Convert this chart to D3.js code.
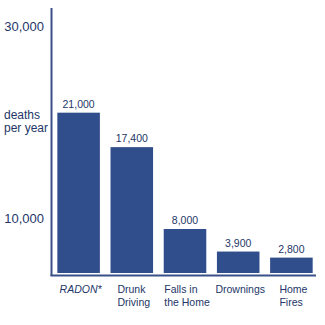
<!DOCTYPE html>
<html>
<head>
<meta charset="utf-8">
<script src="https://cdn.jsdelivr.net/npm/d3@7"></script>
<style>
  body { margin: 0; background: #fff; }
  svg text { font-family: "Liberation Sans", Arial, sans-serif; fill: #243668; }
</style>
</head>
<body>
<svg width="325" height="325"></svg>
<script>
// data
var categories = ["RADON*", "Drunk Driving", "Falls in the Home", "Drownings", "Home Fires"];
var catLines = [["RADON*"], ["Drunk", "Driving"], ["Falls in", "the Home"], ["Drownings"], ["Home", "Fires"]];
var deaths = [21000, 17400, 8000, 3900, 2800];
var valueLabels = ["21,000", "17,400", "8,000", "3,900", "2,800"];
var tickValues = [10000, 30000];
var yTitle = ["deaths", "per year"];

var barColor = "#304e8b";
var axisColor = "#3b5088";

var svg = d3.select("svg");

// x band scale
var x = d3.scaleBand()
    .domain(categories)
    .range([52, 318])
    .paddingInner(0.2)
    .paddingOuter(0.1);

// the original graphic is not drawn to a straight scale, so piecewise linear
var y = d3.scaleLinear()
    .domain([0, 10000, 30000])
    .range([273, 218, 26.5]);

// axis lines
svg.append("line")
    .attr("x1", 51.5).attr("x2", 51.5)
    .attr("y1", 8).attr("y2", 276)
    .attr("stroke", axisColor)
    .attr("stroke-width", 2);

svg.append("line")
    .attr("x1", 50.5).attr("x2", 316)
    .attr("y1", 275.5).attr("y2", 275.5)
    .attr("stroke", axisColor)
    .attr("stroke-width", 2);

// y ticks
var yAxis = d3.axisLeft(y)
    .tickValues(tickValues)
    .tickSize(0)
    .tickPadding(8)
    .tickFormat(d3.format(","));

var gy = svg.append("g")
    .attr("transform", "translate(52,0)")
    .call(yAxis);
gy.select(".domain").remove();
gy.selectAll("text")
    .attr("font-size", 13)
    .attr("font-family", null)
    .attr("fill", null);

// y title
svg.append("text")
    .attr("x", 4)
    .attr("y", 119)
    .attr("font-size", 12)
    .selectAll("tspan")
    .data(yTitle)
    .enter()
    .append("tspan")
    .attr("x", 4)
    .attr("dy", (d, i) => i == 0 ? 0 : 13)
    .text(d => d);

// bars
svg.selectAll("rect.bar")
    .data(deaths)
    .enter()
    .append("rect")
    .attr("class", "bar")
    .attr("x", (d, i) => x(categories[i]))
    .attr("width", x.bandwidth())
    .attr("y", d => y(d))
    .attr("height", d => y(0) - y(d))
    .attr("fill", barColor);

// value labels
svg.selectAll("text.val")
    .data(deaths)
    .enter()
    .append("text")
    .attr("class", "val")
    .attr("x", (d, i) => x(categories[i]) + x.bandwidth() / 2)
    .attr("y", d => y(d) - 5)
    .attr("text-anchor", "middle")
    .attr("font-size", 10.5)
    .text((d, i) => valueLabels[i]);

// category labels: left aligned blocks, block centered under bar
catLines.forEach(function (lines, i) {
    var t = svg.append("text")
        .attr("y", 293)
        .attr("font-size", 10.5)
        .attr("font-style", i == 0 ? "italic" : null);
    t.selectAll("tspan")
        .data(lines)
        .enter()
        .append("tspan")
        .attr("dy", (d, j) => j == 0 ? 0 : 12.6)
        .text(d => d);
    var wMax = 0;
    t.selectAll("tspan").each(function () {
        wMax = Math.max(wMax, this.getComputedTextLength());
    });
    var left = x(categories[i]) + x.bandwidth() / 2 + 2 - wMax / 2;
    t.selectAll("tspan").attr("x", left);
});
</script>
</body>
</html>
